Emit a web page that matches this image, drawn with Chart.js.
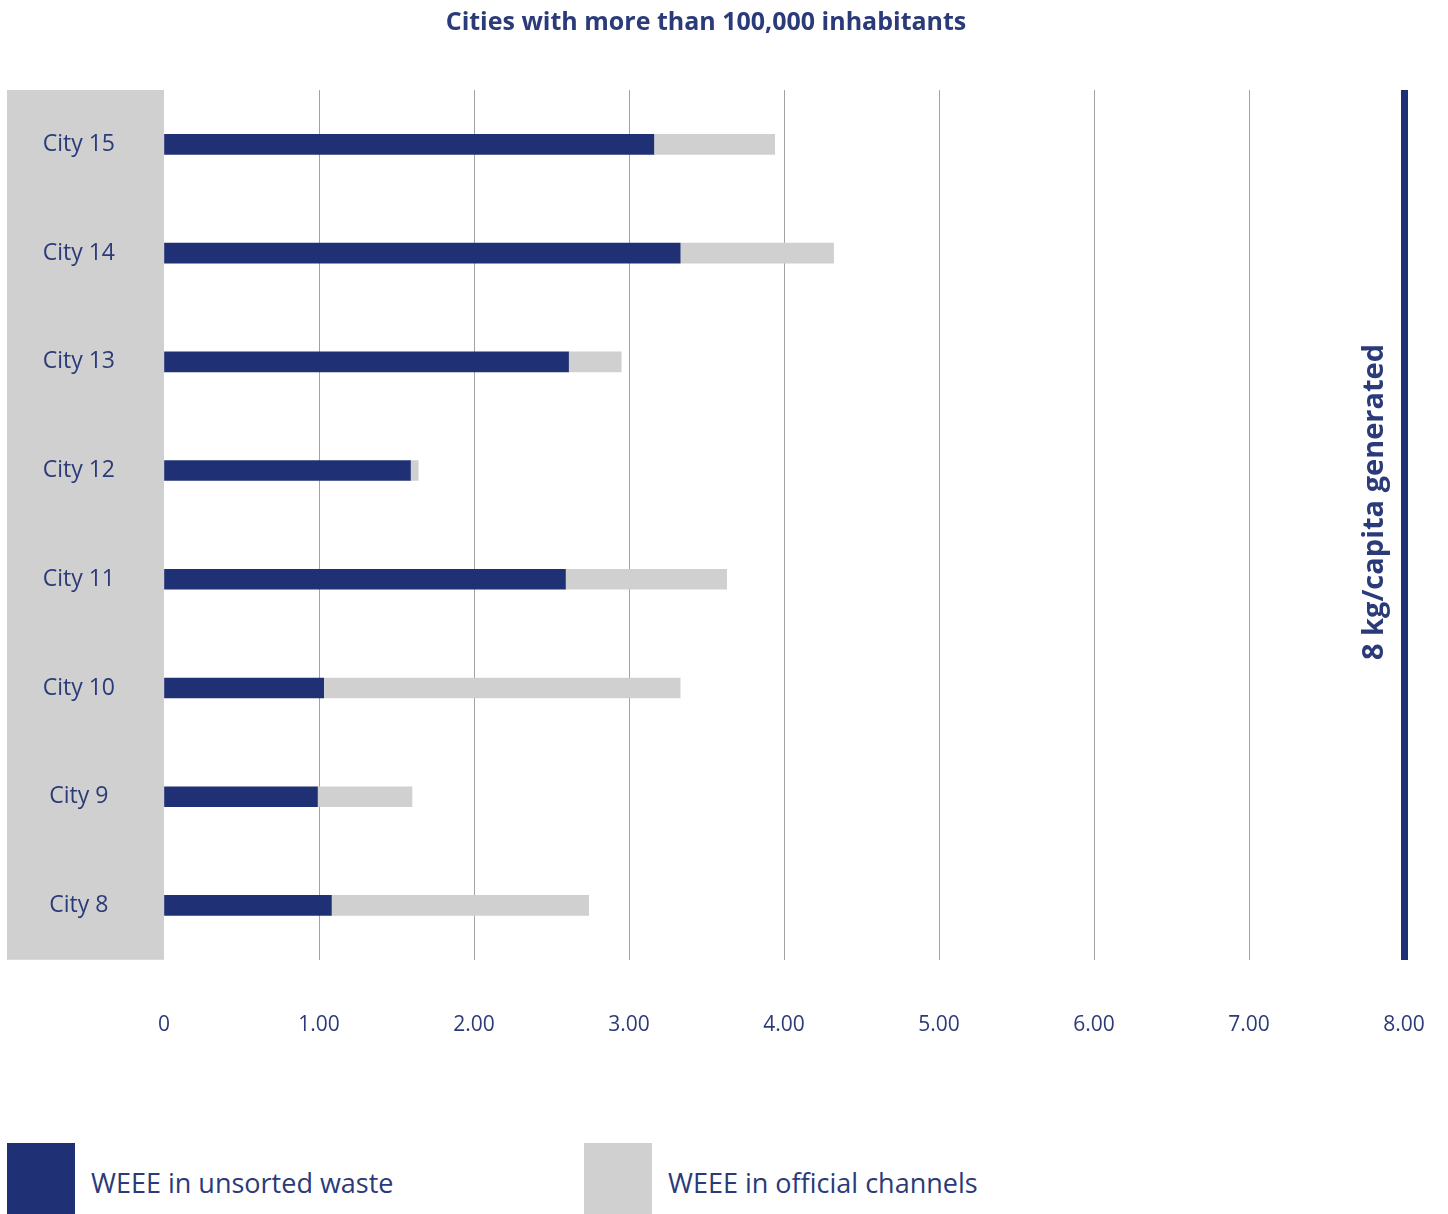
<!DOCTYPE html>
<html>
<head>
<meta charset="utf-8">
<script src="https://cdn.jsdelivr.net/npm/chart.js@4"></script>
<style>
  body { margin: 0; background: #fff; font-family: 'Open Sans', sans-serif; }
  #wrap { position: relative; width: 1448px; height: 1214px; }
  #chart { position: absolute; left: 0; top: 0; }
  .leg-box { position: absolute; width: 68px; height: 71px; top: 1143px; }
  .leg-text { position: absolute; top: 1165px; font-size: 27px; color: #2b3a78; line-height: 36px; }
</style>
</head>
<body>
<div id="wrap">
  <canvas id="chart" width="1448" height="1060"></canvas>
  <div id="legend"></div>
</div>
<script>
var cities = ['City 15', 'City 14', 'City 13', 'City 12', 'City 11', 'City 10', 'City 9', 'City 8'];
var unsorted = [3.16, 3.33, 2.61, 1.59, 2.59, 1.03, 0.99, 1.08];
var official = [0.78, 0.99, 0.34, 0.05, 1.04, 2.30, 0.61, 1.66];
var xTicks = [0, 1, 2, 3, 4, 5, 6, 7, 8];
var seriesNames = ['WEEE in unsorted waste', 'WEEE in official channels'];
var navy = '#1f3174';
var grey = '#d0d0d0';
var textColor = '#2b3a78';
var fontFam = '"Open Sans", sans-serif';

var decorPlugin = {
    id: 'decor',
    beforeDraw: function (chart) {
        var c = chart.ctx, a = chart.chartArea;
        c.save();
        c.fillStyle = grey;
        c.fillRect(a.left - 157, a.top, 157, a.bottom - a.top);
        c.restore();
    },
    afterDraw: function (chart) {
        var c = chart.ctx;
        var x8 = chart.scales.x.getPixelForValue(8);
        c.save();
        c.fillStyle = textColor;
        c.font = 'bold 25px ' + fontFam;
        c.textAlign = 'center';
        c.textBaseline = 'middle';
        c.fillText('Cities with more than 100,000 inhabitants', 706, 23);
        c.translate(x8 - 29, 502);
        c.rotate(-Math.PI / 2);
        c.font = 'bold 29px ' + fontFam;
        c.fillText('8 kg/capita generated', 0, 0);
        c.restore();
    }
};

var ctx = document.getElementById('chart').getContext('2d');
new Chart(ctx, {
    type: 'bar',
    data: {
        labels: cities,
        datasets: [
            { label: seriesNames[0], data: unsorted, backgroundColor: navy, barThickness: 20 },
            { label: seriesNames[1], data: official, backgroundColor: grey, barThickness: 20 }
        ]
    },
    options: {
        indexAxis: 'y',
        responsive: false,
        animation: false,
        layout: { padding: { left: 7, right: 44, top: 90, bottom: 22 } },
        plugins: {
            legend: { display: false },
            title: { display: false },
            tooltip: { enabled: false }
        },
        scales: {
            x: {
                stacked: true,
                min: 0,
                max: 8,
                afterBuildTicks: function (axis) {
                    axis.ticks = xTicks.map(function (v) { return { value: v }; });
                },
                border: { display: false },
                grid: {
                    drawTicks: true,
                    tickLength: 53,
                    tickColor: 'rgba(0,0,0,0)',
                    color: function (c) {
                        if (c.tick.value === 0) return 'rgba(0,0,0,0)';
                        if (c.tick.value === 8) return navy;
                        return '#a3a3a3';
                    },
                    lineWidth: function (c) { return c.tick.value === 8 ? 7 : 1; }
                },
                ticks: {
                    padding: 0,
                    minRotation: 0,
                    maxRotation: 0,
                    color: textColor,
                    font: { family: fontFam, size: 21 },
                    callback: function (v) { return v === 0 ? '0' : v.toFixed(2); }
                }
            },
            y: {
                stacked: true,
                border: { display: false },
                grid: { display: false, drawTicks: false },
                afterFit: function (axis) { axis.width = 157; },
                ticks: {
                    crossAlign: 'center',
                    padding: 49,
                    color: textColor,
                    font: { family: fontFam, size: 23 }
                }
            }
        }
    },
    plugins: [decorPlugin]
});

// legend in html
var legend = document.getElementById('legend');
var legendX = [7, 584];
[navy, grey].forEach(function (col, i) {
    var box = document.createElement('div');
    box.className = 'leg-box';
    box.style.left = legendX[i] + 'px';
    box.style.background = col;
    legend.appendChild(box);
    var t = document.createElement('div');
    t.className = 'leg-text';
    t.style.left = (legendX[i] + 84) + 'px';
    t.textContent = seriesNames[i];
    legend.appendChild(t);
});
</script>
</body>
</html>
